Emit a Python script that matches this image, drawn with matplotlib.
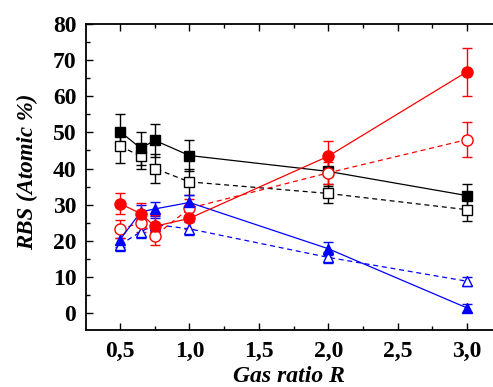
import matplotlib
matplotlib.use("Agg")
import matplotlib.pyplot as plt
import numpy as np
from matplotlib.ticker import MultipleLocator, FuncFormatter

# data
x = [0.5, 0.65, 0.75, 1.0, 2.0, 3.0]

sq_fill = [50.2, 45.6, 47.8, 43.6, 39.2, 32.5]
sq_fill_err = [5.0, 4.5, 4.6, 4.4, 4.0, 3.2]
sq_open = [46.2, 43.4, 40.0, 36.3, 33.1, 28.6]
sq_open_err = [4.6, 3.5, 4.0, 3.5, 2.6, 3.0]

ci_fill = [30.3, 27.5, 24.0, 26.2, 43.4, 66.8]
ci_fill_err = [3.0, 3.0, 3.0, 3.0, 4.2, 6.6]
ci_open = [23.2, 25.0, 21.3, 29.0, 38.8, 48.0]
ci_open_err = [2.5, 2.5, 2.5, 2.5, 3.0, 4.8]

tr_fill = [20.3, 28.0, 28.8, 30.6, 17.8, 1.4]
tr_fill_err = [2.0, 2.0, 2.0, 2.0, 1.8, 1.2]
tr_open = [18.9, 22.5, 24.5, 23.3, 15.4, 8.8]
tr_open_err = [1.8, 1.8, 1.8, 1.8, 1.5, 1.2]

plt.rcParams['font.family'] = ['Liberation Serif', 'DejaVu Serif']

fig = plt.figure(figsize=(4.93, 3.87), dpi=100)
ax = fig.add_axes([86/493, 57/387, 407/493, 306/387])

def serie(y, err, color, marker, filled, ls):
    ax.errorbar(x, y, yerr=err, color=color, ls=ls, lw=0.9,
                marker=marker, ms=7.5 if marker != 'o' else 8,
                mfc=color if filled else 'white', mec=color, mew=1.0,
                capsize=3.5, elinewidth=1.0, capthick=1.0, dashes=(4, 3) if ls == '--' else (None, None))

serie(sq_open, sq_open_err, 'black', 's', False, '--')
serie(sq_fill, sq_fill_err, 'black', 's', True, '-')
serie(tr_open, tr_open_err, 'blue', '^', False, '--')
serie(ci_open, ci_open_err, 'red', 'o', False, '--')
serie(tr_fill, tr_fill_err, 'blue', '^', True, '-')
serie(ci_fill, ci_fill_err, 'red', 'o', True, '-')

ax.set_xlim(0.255, 3.187)
ax.set_ylim(-4.7, 80)
ax.xaxis.set_minor_locator(MultipleLocator(0.25))
ax.yaxis.set_major_locator(MultipleLocator(10))
ax.yaxis.set_minor_locator(MultipleLocator(5))
ax.set_xticks([0.5, 1.0, 1.5, 2.0, 2.5, 3.0])
ax.xaxis.set_major_formatter(FuncFormatter(lambda v, p: ('%.1f' % v).replace('.', ',')))

ax.tick_params(which='both', direction='in', top=True, right=False, width=1.0)
ax.tick_params(which='major', length=5, labelsize=17)
ax.tick_params(axis='x', which='major', pad=8)
ax.tick_params(axis='y', which='major', pad=7)
ax.tick_params(which='minor', length=3)
for lab in ax.get_xticklabels() + ax.get_yticklabels():
    lab.set_fontweight('bold')

ax.spines['right'].set_visible(False)
for s in ['left', 'bottom', 'top']:
    ax.spines[s].set_linewidth(1.3)

# axis titles placed in figure coords
fig.text(289/493, 1 - 376/387, 'Gas ratio R', fontsize=17, fontweight='bold', style='italic',
         ha='center', va='center')
fig.text(27/493, 1 - 172/387, 'RBS (Atomic %)', fontsize=16.5, fontweight='bold', style='italic',
         ha='center', va='center', rotation=90)

fig.savefig('out.png', dpi=100)
